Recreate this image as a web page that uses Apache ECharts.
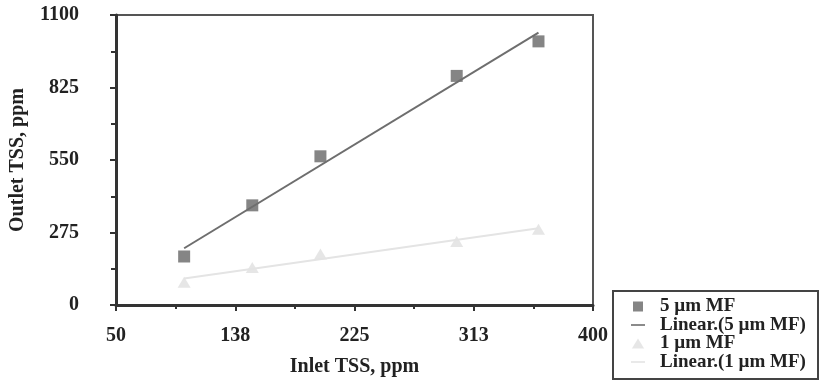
<!DOCTYPE html>
<html>
<head>
<meta charset="utf-8">
<script src="https://cdn.jsdelivr.net/npm/echarts@6/dist/echarts.min.js"></script>
<style>html,body{margin:0;padding:0;background:#fff;overflow:hidden}#c{width:827px;height:382px}</style>
</head>
<body>
<div id="c"></div>
<script>
var inletTSS = [100, 150, 200, 300, 360];
var outlet5um = [184, 378, 564, 869, 1000];
var outlet1um = [86, 142, 193, 241, 287];
var xTickLabels = ['50', '138', '225', '313', '400'];
var yTickLabels = ['0', '275', '550', '825', '1100'];
var seriesNames = ['5 µm MF', 'Linear.(5 µm MF)', '1 µm MF', 'Linear.(1 µm MF)'];

function fit(xs, ys) {
  var n = xs.length, mx = 0, my = 0, sxy = 0, sxx = 0;
  for (var i = 0; i < n; i++) { mx += xs[i]; my += ys[i]; }
  mx /= n; my /= n;
  for (var j = 0; j < n; j++) { sxy += (xs[j]-mx)*(ys[j]-my); sxx += (xs[j]-mx)*(xs[j]-mx); }
  var b = sxy / sxx, a = my - b * mx;
  var x0 = Math.min.apply(null, xs), x1 = Math.max.apply(null, xs);
  return [[x0, a + b*x0], [x1, a + b*x1]];
}
function pairs(xs, ys) { return xs.map(function (x, i) { return [x, ys[i]]; }); }

var font = 'Liberation Serif';
var dark = '#676767', darkLine = '#6e6e6e', light = '#e0e0e0', lightLine = '#e4e4e4';
var lineIcon = 'path://M0,0L14,0L14,1.6L0,1.6Z';
var chart = echarts.init(document.getElementById('c'), null, {renderer: 'canvas'});
chart.setOption({
  animation: false,
  backgroundColor: '#fff',
  grid: {left: 115, top: 15, right: 234, bottom: 76, show: true, borderColor: '#555', borderWidth: 2},
  graphic: [{
    type: 'rect', z: 100, silent: true,
    shape: {x: 613, y: 291, width: 205, height: 88},
    style: {fill: 'none', stroke: '#444', lineWidth: 2}
  }],
  xAxis: {
    type: 'value', min: 50, max: 400, interval: 87.5,
    name: 'Inlet TSS, ppm', nameLocation: 'middle', nameGap: 52,
    nameTextStyle: {fontFamily: font, fontWeight: 'bold', fontSize: 20, color: '#222'},
    axisLine: {show: true, onZero: false, lineStyle: {color: '#333', width: 3}},
    axisTick: {show: true, inside: false, length: 6, lineStyle: {color: '#333', width: 2}},
    minorTick: {show: true, splitNumber: 2, length: 4, lineStyle: {color: '#333', width: 2}},
    splitLine: {show: false},
    axisLabel: {margin: 21, fontFamily: font, fontWeight: 'bold', fontSize: 20, color: '#222',
      formatter: function (v, i) { return xTickLabels[i] !== undefined ? xTickLabels[i] : ''; }}
  },
  yAxis: {
    type: 'value', min: 0, max: 1100, interval: 275,
    name: 'Outlet TSS, ppm', nameLocation: 'middle', nameGap: 88,
    nameTextStyle: {fontFamily: font, fontWeight: 'bold', fontSize: 20, color: '#222'},
    axisLine: {show: true, onZero: false, lineStyle: {color: '#333', width: 3}},
    axisTick: {show: true, inside: false, length: 6, lineStyle: {color: '#333', width: 2}},
    minorTick: {show: true, splitNumber: 2, length: 5, lineStyle: {color: '#333', width: 2}},
    splitLine: {show: false},
    axisLabel: {margin: 37, fontFamily: font, fontWeight: 'bold', fontSize: 20, color: '#222',
      formatter: function (v, i) { return yTickLabels[i] !== undefined ? yTickLabels[i] : ''; }}
  },
  legend: {
    orient: 'vertical', left: 612, top: 290, height: 300,
    borderWidth: 0, padding: [7, 0, 0, 19],
    itemWidth: 14, itemHeight: 10, itemGap: -0.5, symbolKeepAspect: true,
    textStyle: {fontFamily: font, fontWeight: 'bold', fontSize: 19, color: '#222', padding: [0, 0, 0, 10]},
    data: [
      {name: seriesNames[0], icon: 'path://M0,0L10,0L10,10L0,10Z', itemStyle: {color: dark}},
      {name: seriesNames[1], icon: lineIcon, itemStyle: {color: darkLine}},
      {name: seriesNames[2], icon: 'path://M5,0L10.5,9L-0.5,9Z', itemStyle: {color: light}},
      {name: seriesNames[3], icon: lineIcon, itemStyle: {color: lightLine}}
    ]
  },
  series: [
    {name: seriesNames[0], type: 'scatter', symbol: 'rect', symbolSize: 12, z: 3,
      itemStyle: {color: dark}, data: pairs(inletTSS, outlet5um)},
    {name: seriesNames[1], type: 'line', symbol: 'none', z: 4,
      itemStyle: {color: darkLine}, lineStyle: {color: darkLine, width: 2}, data: fit(inletTSS, outlet5um)},
    {name: seriesNames[2], type: 'scatter', symbol: 'triangle', symbolSize: [13, 11], z: 3,
      itemStyle: {color: light}, data: pairs(inletTSS, outlet1um)},
    {name: seriesNames[3], type: 'line', symbol: 'none', z: 4,
      itemStyle: {color: lightLine}, lineStyle: {color: lightLine, width: 2}, data: fit(inletTSS, outlet1um)}
  ]
});
</script>
</body>
</html>
